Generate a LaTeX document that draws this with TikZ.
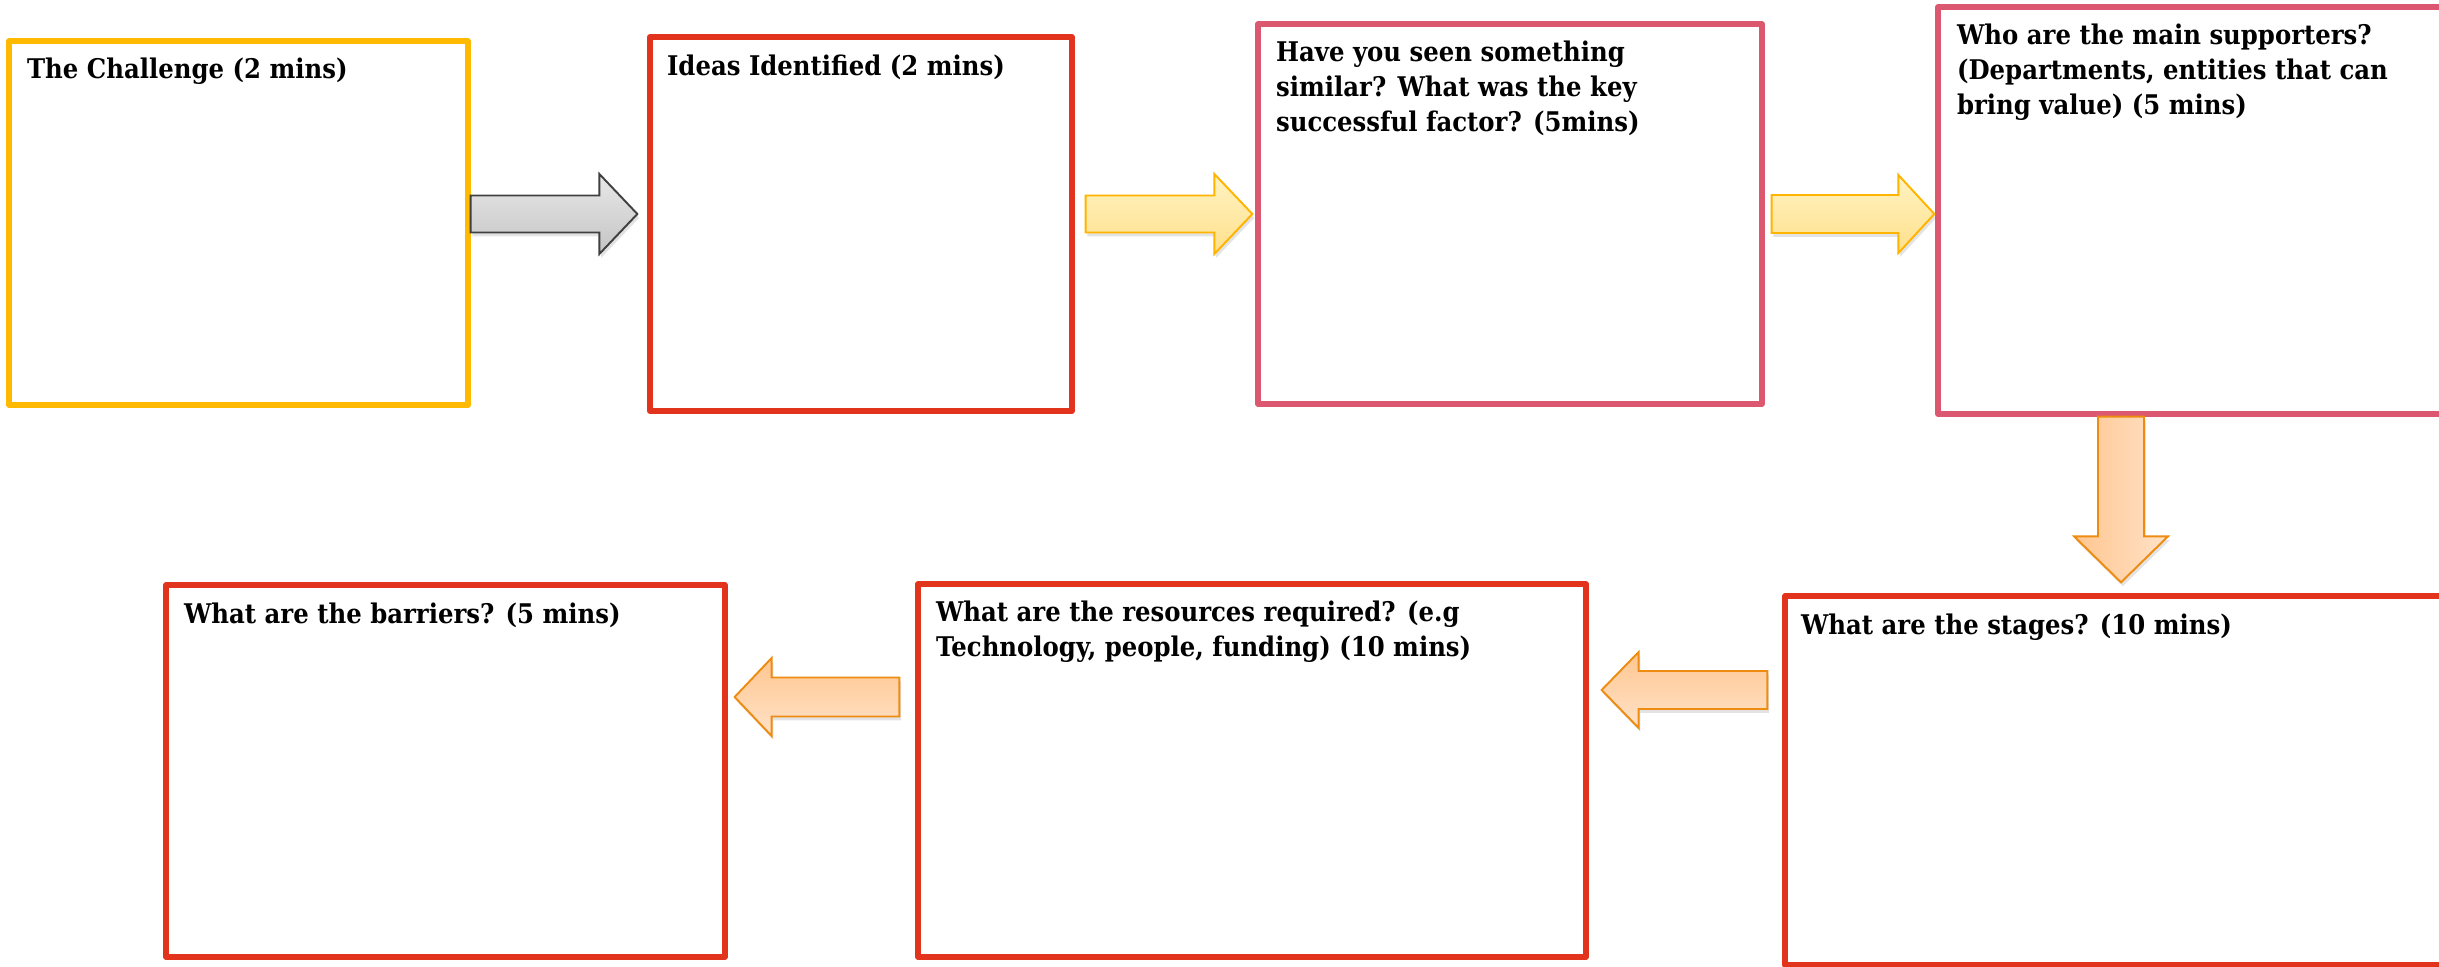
\documentclass[tikz,border=0pt]{standalone}
\usepackage{fontspec}
\newfontfamily\lblfont[FakeStretch=0.9]{DejaVu Serif}
\usetikzlibrary{calc,fit,shadows}
\definecolor{yellowC}{HTML}{FFB900}
\definecolor{redC}{HTML}{E2341D}
\definecolor{pinkC}{HTML}{DB5870}
\definecolor{grayEdge}{HTML}{404040}
\definecolor{grayTop}{HTML}{E8E8E8}
\definecolor{grayBot}{HTML}{C4C4C4}
\definecolor{yelEdge}{HTML}{FFB400}
\definecolor{yelTop}{HTML}{FFF3C2}
\definecolor{yelBot}{HTML}{FFE08C}
\definecolor{orEdge}{HTML}{EE8C12}
\definecolor{orDark}{HTML}{FFC690}
\definecolor{orLight}{HTML}{FFE2C8}
\tikzset{
  box/.style={draw, line width=1.5pt, line join=round, inner sep=0pt},
  ybox/.style={box, draw=yellowC},
  rbox/.style={box, draw=redC},
  pbox/.style={box, draw=pinkC},
  lbl/.style={anchor=base west, inner sep=0pt, align=left,
    font=\lblfont\bfseries\fontsize{7.7}{10}\selectfont},
  blk/.style={line width=0.55pt, line join=miter,
    drop shadow={opacity=0.22, shadow xshift=0.5pt, shadow yshift=-1.1pt}},
  grayarrow/.style={blk, draw=grayEdge, top color=grayTop, bottom color=grayBot},
  yelarrow/.style={blk, draw=yelEdge, top color=yelTop, bottom color=yelBot},
  orarrowL/.style={blk, draw=orEdge, top color=orDark, bottom color=orLight},
  orarrowD/.style={blk, draw=orEdge, left color=orDark, right color=orLight},
}
% right-pointing block arrow: style, tail, tip, shaft half, head half, head length
\newcommand{\rblock}[6]{\draw[#1] ($(#2)+(0,-#4)$) -- ($(#3)+(-#6,-#4)$) -- ($(#3)+(-#6,-#5)$) -- (#3) -- ($(#3)+(-#6,#5)$) -- ($(#3)+(-#6,#4)$) -- ($(#2)+(0,#4)$) -- cycle;}
\newcommand{\lblock}[6]{\draw[#1] ($(#2)+(0,-#4)$) -- ($(#3)+(#6,-#4)$) -- ($(#3)+(#6,-#5)$) -- (#3) -- ($(#3)+(#6,#5)$) -- ($(#3)+(#6,#4)$) -- ($(#2)+(0,#4)$) -- cycle;}
\newcommand{\dblock}[6]{\draw[#1] ($(#2)+(-#4,0)$) -- ($(#3)+(-#4,-#6)$) -- ($(#3)+(-#5,-#6)$) -- (#3) -- ($(#3)+(#5,-#6)$) -- ($(#3)+(#4,-#6)$) -- ($(#2)+(#4,0)$) -- cycle;}
\begin{document}
\begin{tikzpicture}[x=0.01cm, y=-0.01cm]
\useasboundingbox (0,0) rectangle (2439,967);
\clip (0,0) rectangle (2439,967);
% boxes
\node[ybox, fit={(9,41) (468,405)}] (b1) {};
\node[rbox, fit={(650,37) (1072,411)}] (b2) {};
\node[pbox, fit={(1258,24) (1762,404)}] (b3) {};
\node[pbox, fit={(1938,7) (2475,414)}] (b4) {};
\node[rbox, fit={(1785,596) (2475,965)}] (b5) {};
\node[rbox, fit={(918,584) (1586,957)}] (b6) {};
\node[rbox, fit={(166,585) (725,957)}] (b7) {};
% texts (anchor = baseline of last line)
\node[lbl] (t1) at ($(b1.north west)+(20,40)$) {The Challenge (2 mins)};
\node[lbl] (t2) at ($(b2.north west)+(19,41)$) {Ideas Identified (2 mins)};
\node[lbl] (t3) at ($(b3.north west)+(20,110)$) {Have you seen something\\similar? What was the key\\successful factor? (5mins)};
\node[lbl] (t4) at ($(b4.north west)+(21,110)$) {Who are the main supporters?\\(Departments, entities that can\\bring value) (5 mins)};
\node[lbl] (t5) at ($(b5.north west)+(18,41)$) {What are the stages? (10 mins)};
\node[lbl] (t6) at ($(b6.north west)+(20,75)$) {What are the resources required? (e.g\\Technology, people, funding) (10 mins)};
\node[lbl] (t7) at ($(b7.north west)+(20,41)$) {What are the barriers? (5 mins)};
% arrow guide coordinates
\coordinate (ya) at (0,214);
\coordinate (xd) at (2121,0);
\coordinate (yb) at (0,690);
\coordinate (yc) at (0,697);
\coordinate (a1s) at (b1.east |- ya);
\coordinate (a1e) at ($(b2.west |- ya)+(-10,0)$);
\coordinate (a2s) at ($(b2.east |- ya)+(11,0)$);
\coordinate (a2e) at ($(b3.west |- ya)+(-3,0)$);
\coordinate (a3s) at ($(b3.east |- ya)+(7,0)$);
\coordinate (a3e) at ($(b4.west |- ya)+(-1,0)$);
\coordinate (a4s) at (b4.south -| xd);
\coordinate (a4e) at ($(b5.north -| xd)+(0,-11)$);
\coordinate (a5s) at ($(b5.west |- yb)+(-15,0)$);
\coordinate (a5e) at ($(b6.east |- yb)+(13,0)$);
\coordinate (a6s) at ($(b6.west |- yc)+(-16,0)$);
\coordinate (a6e) at ($(b7.east |- yc)+(7,0)$);
% block arrows
\rblock{grayarrow}{a1s}{a1e}{18.5}{40}{38}
\rblock{yelarrow}{a2s}{a2e}{18.5}{40}{38}
\rblock{yelarrow}{a3s}{a3e}{19}{39}{36}
\dblock{orarrowD}{a4s}{a4e}{23}{47}{46}
\lblock{orarrowL}{a5s}{a5e}{19}{38}{37}
\lblock{orarrowL}{a6s}{a6e}{19.5}{39}{37}
\end{tikzpicture}
\end{document}
